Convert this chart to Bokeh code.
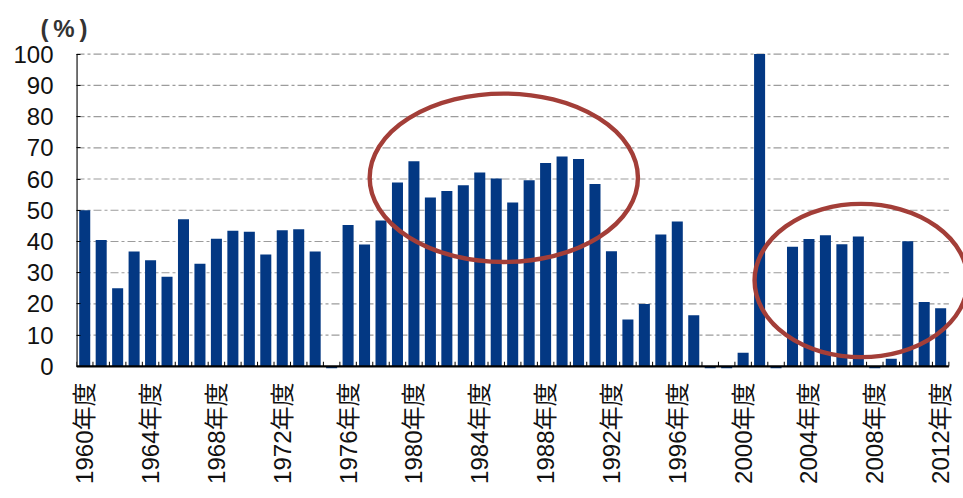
import math
from bokeh.plotting import figure
from bokeh.models import Range1d, FixedTicker
from bokeh.embed import file_html
from bokeh.resources import INLINE

# Fiscal years and the share (%) for each year
years = list(range(1960, 2013))
ratio = [50.0, 40.5, 25.0, 36.8, 34.0, 28.7, 47.1, 32.9, 40.9, 43.4,
         43.1, 35.8, 43.6, 43.9, 36.8, -0.6, 45.3, 39.0, 46.7, 58.9,
         65.7, 54.1, 56.2, 58.0, 62.1, 60.2, 52.5, 59.6, 65.1, 67.2,
         66.4, 58.4, 36.9, 15.0, 20.0, 42.2, 46.4, 16.4, -0.6, -0.6,
         4.4, 100.0, -0.6, 38.3, 40.8, 42.0, 39.1, 41.6, -0.6, 2.5,
         40.1, 20.6, 18.6]

# Tick labels every four years
label_years = list(range(1960, 2013, 4))
tick_labels = [f"{y}年度" for y in label_years]
y_ticks = list(range(0, 101, 10))

# Highlight ellipses (centre year, centre %, width in years, height in %)
ellipse_x = [1985.46, 2007.17]
ellipse_y = [60.4, 27.5]
ellipse_w = [16.3, 12.95]
ellipse_h = [53.9, 49.1]

BAR = "#033883"
RING = "#A33E38"
LATIN = "Liberation Sans, Noto Sans CJK JP"

x_lo = years[0] - 0.5
x_hi = years[-1] + 0.5
frame_w = 963 - 76
x_range = Range1d(x_lo, x_lo + frame_w / 16.46)
y_range = Range1d(-1.3, 100.5)

p = figure(width=963, height=498, x_range=x_range, y_range=y_range,
           output_backend="svg", toolbar_location=None,
           min_border_left=76, min_border_right=0,
           min_border_top=52, min_border_bottom=128,
           title="(\u2009%\u2009)")
p.title.align = "left"
p.title.offset = -36
p.title.standoff = 21
p.title.text_font = "Liberation Sans"
p.title.text_font_size = "24px"
p.title.text_font_style = "bold"
p.title.text_color = "#333333"
p.outline_line_color = None
p.xgrid.visible = False
p.ygrid.visible = False
p.background_fill_color = "white"

# dashed horizontal gridlines
grid_vals = y_ticks[1:]
p.segment(x0=[x_lo] * len(grid_vals), x1=[x_hi] * len(grid_vals),
          y0=grid_vals, y1=grid_vals, line_color="#9C9C9C", line_width=1.2,
          line_dash="8 3 3 3")

# bars
p.vbar(x=years, top=ratio, bottom=0, width=0.67, fill_color=BAR, line_color=None)

# axis lines
p.segment(x0=[x_lo], x1=[x_hi], y0=[0], y1=[0], line_color="black", line_width=2.2)
p.segment(x0=[x_lo], x1=[x_lo], y0=[0], y1=[100], line_color="black", line_width=2.2)

# small inward ticks at the category boundaries
bounds = [y - 0.5 for y in years] + [x_hi]
p.segment(x0=bounds, x1=bounds, y0=[0] * len(bounds), y1=[1.5] * len(bounds),
          line_color="black", line_width=1)

# highlight rings
p.ellipse(x=ellipse_x, y=ellipse_y, width=ellipse_w, height=ellipse_h,
          fill_color=None, line_color=RING, line_width=4.4)

# y axis
p.yaxis.ticker = FixedTicker(ticks=y_ticks, minor_ticks=[])
p.yaxis.axis_line_color = None
p.yaxis.major_tick_in = 4
p.yaxis.major_tick_out = 0
p.yaxis.major_tick_line_color = "black"
p.yaxis.major_label_standoff = 23
p.yaxis.major_label_text_font = LATIN
p.yaxis.major_label_text_font_size = "24px"
p.yaxis.major_label_text_color = "#111111"

# x axis
p.xaxis.ticker = FixedTicker(ticks=label_years, minor_ticks=[])
p.xaxis.major_label_overrides = {y: t for y, t in zip(label_years, tick_labels)}
p.xaxis.axis_line_color = None
p.xaxis.major_tick_line_color = None
p.xaxis.major_tick_in = 0
p.xaxis.major_tick_out = 0
p.xaxis.major_label_orientation = math.pi / 2
p.xaxis.major_label_standoff = 12
p.xaxis.major_label_text_font = LATIN
p.xaxis.major_label_text_font_size = "24px"
p.xaxis.major_label_text_color = "#111111"

open("out.html", "w").write(file_html(p, INLINE))
